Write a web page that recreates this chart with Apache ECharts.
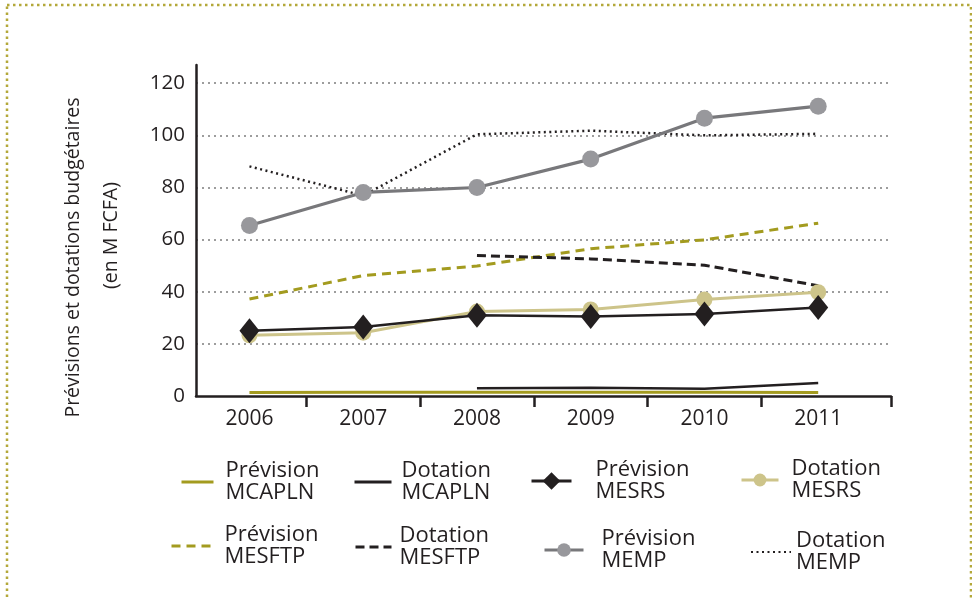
<!DOCTYPE html>
<html>
<head>
<meta charset="utf-8">
<script src="https://cdn.jsdelivr.net/npm/echarts@6/dist/echarts.min.js"></script>
<style>
  html, body { margin: 0; padding: 0; background: #fff; }
  #chart { width: 972px; height: 598px; }
</style>
</head>
<body>
<div id="chart"></div>
<script>
const years = ['2006', '2007', '2008', '2009', '2010', '2011']
const yTicks = [0, 20, 40, 60, 80, 100, 120]

const prevMCAPLN = [1.3, 1.4, 1.4, 1.4, 1.4, 1.3]
const dotMCAPLN = [null, null, 3, 3.2, 2.8, 5]
const prevMESRS = [25, 26.5, 31, 30.5, 31.5, 34]
const dotMESRS = [23.3, 24.3, 32.4, 33.2, 37, 39.8]
const prevMESFTP = [37.2, 46.2, 49.9, 56.5, 59.9, 66.3]
const dotMESFTP = [null, null, 53.9, 52.6, 50.2, 42.3]
const prevMEMP = [65.4, 78.1, 80, 90.9, 106.6, 111.2]
const dotMEMP = [88.1, 76.9, 100.4, 101.8, 100, 100.6]

const FONT = '"Open Sans", sans-serif'
const OLIVE = '#a39b1f'
const BLACK = '#231f20'
const BEIGE = '#cdc48a'
const GREY_LINE = '#78787b'
const GREY_DOT = '#98989c'

const pairs = arr => arr.map((v, i) => [i, v])

const series = [
  { name: 'Prévision MCAPLN', data: pairs(prevMCAPLN), symbol: 'none',
    lineStyle: { color: OLIVE, width: 3 }, itemStyle: { color: OLIVE } },
  { name: 'Dotation MCAPLN', data: pairs(dotMCAPLN), symbol: 'none',
    lineStyle: { color: BLACK, width: 2.5 }, itemStyle: { color: BLACK } },
  { name: 'Prévision MESFTP', data: pairs(prevMESFTP), symbol: 'none',
    lineStyle: { color: OLIVE, width: 3, type: [9, 6] }, itemStyle: { color: OLIVE } },
  { name: 'Dotation MESFTP', data: pairs(dotMESFTP), symbol: 'none',
    lineStyle: { color: BLACK, width: 3, type: [9, 5] }, itemStyle: { color: BLACK } },
  { name: 'Dotation MEMP', data: pairs(dotMEMP), symbol: 'none',
    lineStyle: { color: BLACK, width: 2.5, type: [2, 3.5] }, itemStyle: { color: BLACK } },
  { name: 'Prévision MEMP', data: pairs(prevMEMP), symbol: 'circle', symbolSize: 17,
    lineStyle: { color: GREY_LINE, width: 3.2 }, itemStyle: { color: GREY_DOT } },
  { name: 'Dotation MESRS', data: pairs(dotMESRS), symbol: 'circle', symbolSize: 16,
    lineStyle: { color: BEIGE, width: 3 }, itemStyle: { color: BEIGE } },
  { name: 'Prévision MESRS', data: pairs(prevMESRS), symbol: 'diamond', symbolSize: [20, 25],
    lineStyle: { color: BLACK, width: 2.5 }, itemStyle: { color: BLACK } }
].map(s => Object.assign({ type: 'line', showSymbol: s.symbol !== 'none', animation: false,
  emphasis: { disabled: true } }, s))

// legend placement: name, icon start, icon width, text start, vertical centre, icon height, marker
const legendSlots = [
  ['Prévision MCAPLN', 180, 32, 224, 482, 14, false],
  ['Dotation MCAPLN', 353, 37, 400, 482, 14, false],
  ['Prévision MESRS', 530, 40, 594, 481, 22, true],
  ['Dotation MESRS', 740, 37, 790, 480, 16, true],
  ['Prévision MESFTP', 170, 40, 223, 546, 14, false],
  ['Dotation MESFTP', 354, 36, 398, 547, 14, false],
  ['Prévision MEMP', 543, 39, 600, 550, 17, true],
  ['Dotation MEMP', 750, 40, 795, 552, 14, false]
]

const LEGEND_LINE_H = 22
const legends = legendSlots.map(([name, x, w, tx, cy, h, marker]) => ({
  data: [name],
  left: x,
  top: cy - LEGEND_LINE_H,
  padding: 0,
  itemWidth: w,
  itemHeight: h,
  selectedMode: false,
  itemStyle: marker ? {} : { opacity: 0 },
  lineStyle: name === 'Dotation MEMP' ? {} : { width: 3 },
  formatter: n => n.replace(' ', '\n'),
  textStyle: {
    fontFamily: FONT, fontSize: 22, color: BLACK, lineHeight: LEGEND_LINE_H,
    padding: [0, 0, 0, tx - (x + w + 5)]
  }
}))

const titleStyle = { fontFamily: FONT, fontSize: 19.5, color: BLACK, lineHeight: 38 }

const chart = echarts.init(document.getElementById('chart'), null, { renderer: 'canvas' })
chart.setOption({
  backgroundColor: '#fff',
  animation: false,
  textStyle: { fontFamily: FONT },
  grid: { left: 196, right: 81, top: 65, bottom: 202 },
  legend: legends,
  graphic: [{
    type: 'rect',
    shape: { x: 7, y: 5, width: 964, height: 700 },
    style: { fill: 'none', stroke: '#b3a83a', lineWidth: 2.5, lineDash: [2.5, 3.5] },
    silent: true
  }],
  xAxis: {
    type: 'value',
    min: -0.47,
    max: 5.64,
    axisLine: { onZero: false, lineStyle: { color: BLACK, width: 2.5 } },
    axisTick: { length: 11, lineStyle: { color: BLACK, width: 2.5 },
      customValues: [0.5, 1.5, 2.5, 3.5, 4.5, 5.64] },
    axisLabel: { customValues: years.map((y, i) => i), formatter: v => years[Math.round(v)],
      fontSize: 21, color: BLACK, margin: 13, fontFamily: FONT },
    splitLine: { show: false }
  },
  yAxis: {
    type: 'value',
    min: 0,
    max: 127,
    interval: 20,
    name: '{a|Prévisions et dotations budgétaires}\n{b|(en M FCFA)}',
    nameLocation: 'middle',
    nameRotate: 90,
    nameGap: 66,
    nameTextStyle: Object.assign({}, titleStyle, {
      rich: {
        a: Object.assign({}, titleStyle, { padding: [0, 54, 0, 0] }),
        b: Object.assign({}, titleStyle, { padding: [0, 10, 0, 0] })
      }
    }),
    axisLine: { show: true, onZero: false, lineStyle: { color: BLACK, width: 2.5 } },
    axisTick: { show: false },
    axisLabel: { customValues: yTicks, fontSize: 20.5, color: BLACK, margin: 11, fontFamily: FONT },
    splitLine: { show: true, showMinLine: false, showMaxLine: false,
      lineStyle: { color: '#9d9d9d', width: 2, type: [2, 4] } }
  },
  series
})
</script>
</body>
</html>
